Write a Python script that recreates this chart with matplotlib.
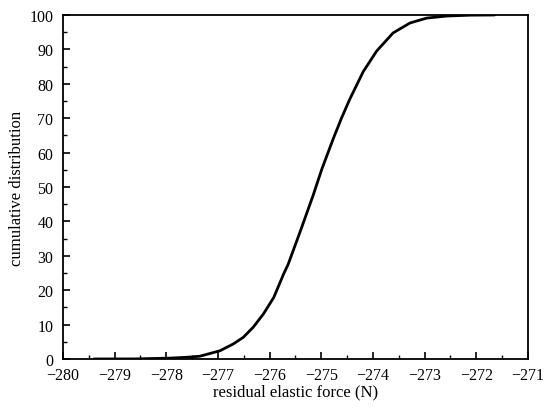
import matplotlib
matplotlib.use("Agg")
import matplotlib.pyplot as plt
from matplotlib.ticker import MultipleLocator

# values
force = [-279.4, -278.6, -277.93, -277.6, -277.35, -276.96, -276.70, -276.51,
         -276.32, -276.12, -275.92, -275.73, -275.64, -275.41, -275.16,
         -274.99, -274.77, -274.61, -274.45, -274.19, -273.93, -273.61,
         -273.28, -272.96, -272.57, -272.12, -271.65]
cum_dist = [0.0, 0.02, 0.25, 0.5, 0.8, 2.4, 4.4, 6.3,
            9.2, 13.1, 17.9, 24.7, 27.6, 37.0, 47.5,
            55.2, 64.0, 70.0, 75.5, 83.5, 89.5, 94.8,
            97.7, 99.1, 99.7, 99.95, 100.0]

plt.rcParams['font.family'] = ['Liberation Serif', 'DejaVu Serif']

fig = plt.figure(figsize=(5.5, 4.1), dpi=100)
ax = fig.add_axes([0.1145, 0.122, 0.8455, 0.839])

ax.plot(force, cum_dist, color='black', linewidth=2.0,
        solid_capstyle='round', solid_joinstyle='round')

ax.set_xlim(-280, -271)
ax.set_ylim(0, 100)
ax.xaxis.set_major_locator(MultipleLocator(1))
ax.xaxis.set_minor_locator(MultipleLocator(0.5))
ax.yaxis.set_major_locator(MultipleLocator(10))
ax.yaxis.set_minor_locator(MultipleLocator(5))
ax.tick_params(which='both', direction='in', top=False, right=False, labelsize=11.5)
ax.tick_params(which='major', length=5, width=1.2)
ax.tick_params(axis='x', which='major', pad=6)
ax.tick_params(axis='y', which='major', pad=7)
ax.tick_params(which='minor', length=3, width=1.0)
for s in ax.spines.values():
    s.set_linewidth(1.3)

ax.set_xlabel('residual elastic force (N)', fontsize=12, labelpad=0)
ax.set_ylabel('cumulative distribution', fontsize=12, labelpad=3)

fig.savefig('out.png', dpi=100)
